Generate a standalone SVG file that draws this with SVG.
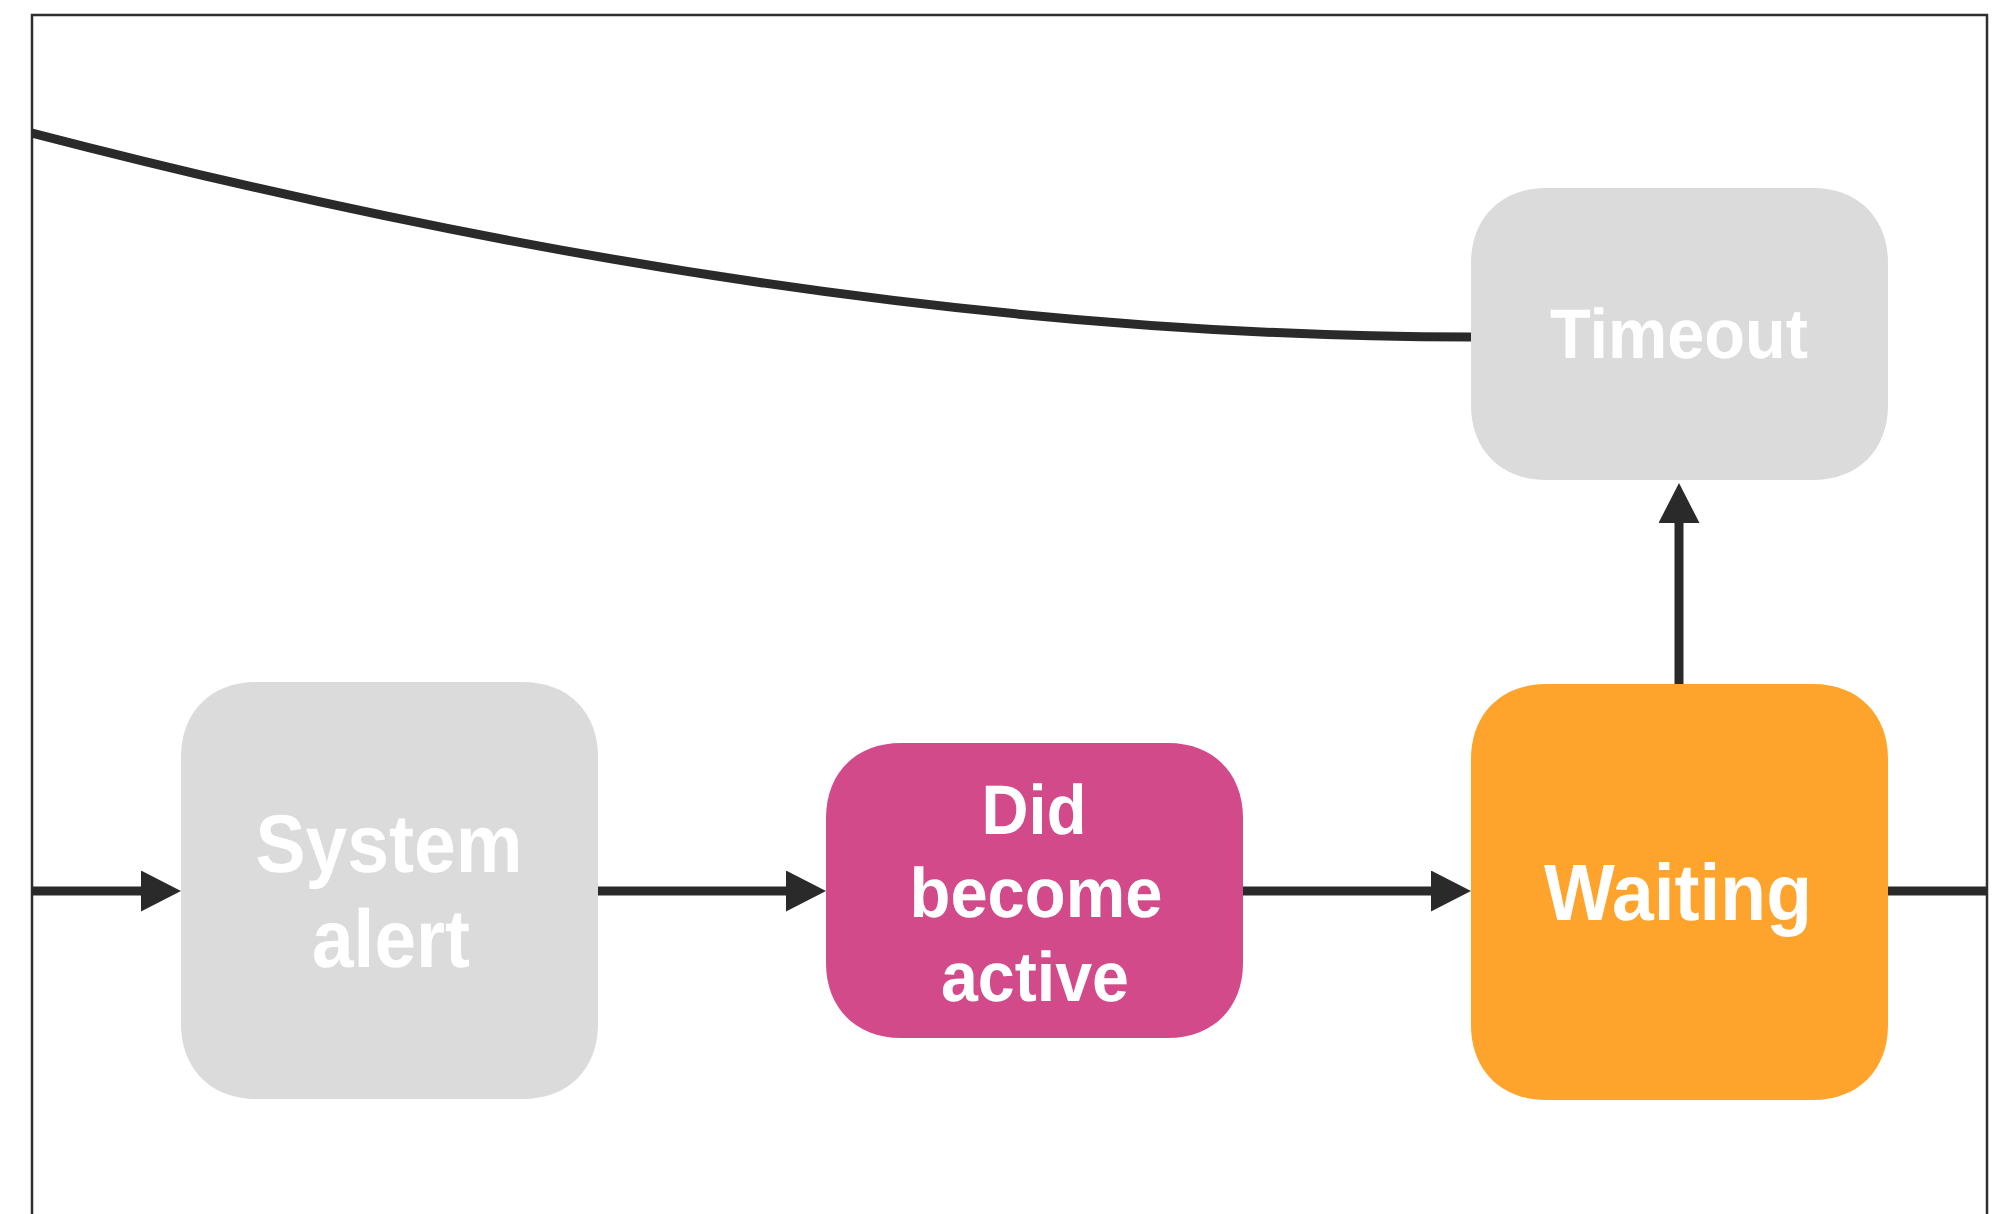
<svg xmlns="http://www.w3.org/2000/svg" width="2003" height="1214" viewBox="0 0 2003 1214">
  <style>
    .frame { fill: none; stroke: #2f2f2f; stroke-width: 2.5; }
    .edge { fill: none; stroke: #2a2a2a; stroke-width: 9; }
    .gray { fill: #dbdbdb; }
    .pink { fill: #d34a8b; }
    .orange { fill: #fea42c; }
    .label { fill: #ffffff; font-family: "Liberation Sans", Arial, Helvetica, sans-serif; font-weight: bold; text-anchor: middle; text-rendering: geometricPrecision; }
  </style>
  <defs>
    <!-- arrowhead starts where the line stops, so the stroke never pokes past the tip -->
    <marker id="arrow" viewBox="0 0 40 41" refX="0" refY="20.5" markerWidth="40" markerHeight="41" markerUnits="userSpaceOnUse" orient="auto">
      <path d="M0,0 L40,20.5 L0,41 Z" fill="#2a2a2a"/>
    </marker>
    <clipPath id="frameClip">
      <rect x="32" y="15" width="1955" height="1199"/>
    </clipPath>
  </defs>

  <rect width="2003" height="1214" fill="#ffffff"/>

  <!-- outer frame: top, left and right sides only -->
  <path class="frame" d="M32,1214 L32,15 L1987,15 L1987,1214"/>

  <g id="connectors" clip-path="url(#frameClip)">
    <path class="edge" d="M32,133 Q817,337 1471,337"/>
    <path class="edge" d="M32,891 L141,891" marker-end="url(#arrow)"/>
    <path class="edge" d="M598,891 L786,891" marker-end="url(#arrow)"/>
    <path class="edge" d="M1243,891 L1431,891" marker-end="url(#arrow)"/>
    <path class="edge" d="M1679,684 L1679,523" marker-end="url(#arrow)"/>
    <path class="edge" d="M1888,891 L1987,891"/>
  </g>

  <!-- nodes use smooth continuous corners -->
  <g id="timeout">
    <path class="gray" d="M1546,188 H1813 C1858,188 1888,218 1888,263 V405 C1888,450 1858,480 1813,480 H1546 C1501,480 1471,450 1471,405 V263 C1471,218 1501,188 1546,188 Z"/>
    <text class="label" x="1679" y="358" font-size="70" textLength="258" lengthAdjust="spacingAndGlyphs">Timeout</text>
  </g>

  <g id="system-alert">
    <path class="gray" d="M256,682 H523 C568,682 598,712 598,757 V1024 C598,1069 568,1099 523,1099 H256 C211,1099 181,1069 181,1024 V757 C181,712 211,682 256,682 Z"/>
    <text class="label" x="389" y="872" font-size="82" textLength="267" lengthAdjust="spacingAndGlyphs">System</text>
    <text class="label" x="391" y="967" font-size="82" textLength="158" lengthAdjust="spacingAndGlyphs">alert</text>
  </g>

  <g id="did-become-active">
    <path class="pink" d="M901,743 H1168 C1213,743 1243,773 1243,818 V963 C1243,1008 1213,1038 1168,1038 H901 C856,1038 826,1008 826,963 V818 C826,773 856,743 901,743 Z"/>
    <text class="label" x="1034" y="834" font-size="70" textLength="105" lengthAdjust="spacingAndGlyphs">Did</text>
    <text class="label" x="1036" y="917" font-size="70" textLength="253" lengthAdjust="spacingAndGlyphs">become</text>
    <text class="label" x="1035" y="1001" font-size="70" textLength="188" lengthAdjust="spacingAndGlyphs">active</text>
  </g>

  <g id="waiting">
    <path class="orange" d="M1546,684 H1813 C1858,684 1888,714 1888,759 V1025 C1888,1070 1858,1100 1813,1100 H1546 C1501,1100 1471,1070 1471,1025 V759 C1471,714 1501,684 1546,684 Z"/>
    <text class="label" x="1678" y="920" font-size="80" textLength="268" lengthAdjust="spacingAndGlyphs">Waiting</text>
  </g>
</svg>
